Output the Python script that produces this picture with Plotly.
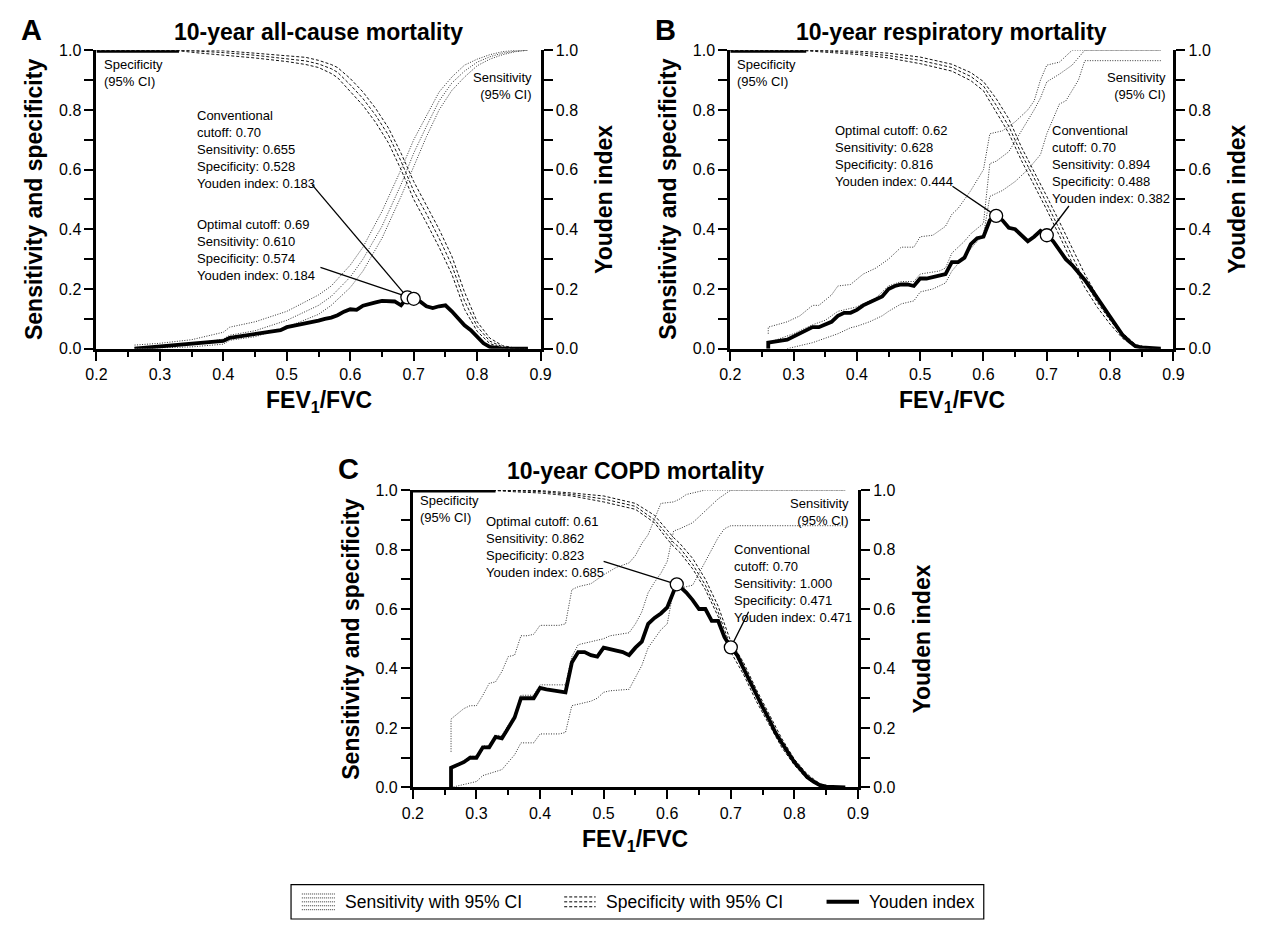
import plotly.graph_objects as go

W, H = 1264, 929
FONT = "Liberation Sans, Arial, Helvetica, sans-serif"

# ---------------- tick labels ----------------
x_tickvals = [0.2, 0.3, 0.4, 0.5, 0.6, 0.7, 0.8, 0.9]
x_ticktext = ["0.2", "0.3", "0.4", "0.5", "0.6", "0.7", "0.8", "0.9"]
x_minorvals = [0.25, 0.35, 0.45, 0.55, 0.65, 0.75, 0.85]
y_tickvals = [0.0, 0.2, 0.4, 0.6, 0.8, 1.0]
y_ticktext = ["0.0", "0.2", "0.4", "0.6", "0.8", "1.0"]
y_midvals = [0.1, 0.3, 0.5, 0.7, 0.9]
y_minorvals = [0.05, 0.15, 0.25, 0.35, 0.45, 0.55, 0.65, 0.75, 0.85, 0.95]

titles = ["10-year all-cause mortality", "10-year respiratory mortality", "10-year COPD mortality"]
letters = ["A", "B", "C"]

# ---------------- Panel A: all-cause ----------------
A_youden_x = [0.26,0.28,0.30,0.32,0.34,0.36,0.38,0.40,0.41,0.43,0.45,0.47,0.49,0.50,0.52,0.54,
              0.55,0.56,0.57,0.58,0.59,0.60,0.61,0.62,0.63,0.64,0.65,0.66,0.67,0.68,0.69,0.70,
              0.71,0.72,0.73,0.74,0.75,0.76,0.77,0.78,0.79,0.80,0.81,0.82,0.83,0.84,0.86,0.88]
A_youden_y = [0.0,0.004,0.008,0.012,0.015,0.018,0.022,0.026,0.036,0.042,0.050,0.057,0.062,0.072,0.080,0.090,
              0.094,0.100,0.104,0.112,0.124,0.132,0.130,0.144,0.148,0.155,0.160,0.160,0.158,0.145,0.172,0.167,
              0.158,0.142,0.136,0.142,0.145,0.125,0.100,0.078,0.062,0.042,0.018,0.006,0.002,0.0,0.0,0.0]
A_sens_x = [0.26,0.30,0.35,0.40,0.41,0.45,0.50,0.55,0.57,0.60,0.62,0.65,0.68,0.70,0.72,0.74,0.76,0.78,0.80,0.82,0.84,0.86,0.88]
A_sens_hi = [0.012,0.018,0.030,0.055,0.072,0.090,0.125,0.180,0.210,0.280,0.340,0.460,0.600,0.700,0.780,0.860,0.910,0.950,0.970,0.985,0.995,1.000,1.000]
A_sens_mid = [0.004,0.008,0.016,0.032,0.045,0.060,0.095,0.145,0.175,0.240,0.300,0.410,0.550,0.655,0.745,0.830,0.890,0.930,0.960,0.978,0.990,0.997,1.000]
A_sens_lo = [0.000,0.002,0.006,0.015,0.028,0.040,0.072,0.115,0.145,0.205,0.260,0.370,0.510,0.610,0.710,0.800,0.865,0.910,0.948,0.970,0.985,0.995,1.000]
A_spec_x = [0.20,0.33,0.36,0.40,0.45,0.50,0.53,0.55,0.57,0.58,0.60,0.62,0.64,0.66,0.68,0.70,0.72,0.74,0.76,0.78,0.80,0.82,0.84,0.86,0.88]
A_spec_hi = [1.0,1.0,1.0,0.998,0.990,0.982,0.976,0.966,0.952,0.942,0.905,0.860,0.805,0.740,0.655,0.560,0.480,0.400,0.310,0.190,0.090,0.035,0.010,0.002,0.0]
A_spec_mid = [1.0,1.0,0.997,0.992,0.983,0.972,0.964,0.954,0.938,0.926,0.884,0.838,0.782,0.716,0.628,0.528,0.452,0.370,0.280,0.160,0.074,0.025,0.006,0.001,0.0]
A_spec_lo = [1.0,0.998,0.991,0.984,0.974,0.962,0.952,0.942,0.922,0.908,0.862,0.815,0.758,0.690,0.600,0.500,0.422,0.340,0.250,0.132,0.058,0.017,0.003,0.0,0.0]
A_cut_x = [0.69, 0.70]
A_cut_y = [0.172, 0.167]
A_notes = ["Conventional<br>cutoff: 0.70<br>Sensitivity: 0.655<br>Specificity: 0.528<br>Youden index: 0.183",
           "Optimal cutoff: 0.69<br>Sensitivity: 0.610<br>Specificity: 0.574<br>Youden index: 0.184"]
A_note_x = [0.355, 0.355]
A_note_y = [0.812, 0.447]
A_lead_from_x = [0.540, 0.553]
A_lead_from_y = [0.549, 0.272]

# ---------------- Panel B: respiratory ----------------
B_youden_x = [0.26,0.26,0.29,0.30,0.31,0.32,0.33,0.34,0.35,0.36,0.37,0.38,0.39,0.40,0.41,0.42,0.43,0.44,0.45,0.46,
              0.47,0.48,0.49,0.50,0.51,0.52,0.53,0.54,0.55,0.56,0.57,0.58,0.59,0.60,0.61,0.62,0.63,0.64,0.65,0.66,
              0.67,0.68,0.69,0.70,0.71,0.72,0.73,0.74,0.75,0.76,0.77,0.78,0.79,0.80,0.81,0.82,0.83,0.84,0.85,0.86,0.88]
B_youden_y = [0.0,0.02,0.03,0.04,0.05,0.06,0.072,0.072,0.08,0.09,0.11,0.12,0.12,0.13,0.145,0.155,0.165,0.175,0.20,0.21,
              0.215,0.215,0.21,0.235,0.235,0.24,0.245,0.25,0.29,0.29,0.305,0.35,0.37,0.375,0.43,0.445,0.43,0.405,0.40,0.38,
              0.36,0.375,0.395,0.382,0.36,0.33,0.30,0.28,0.255,0.23,0.20,0.17,0.14,0.105,0.075,0.045,0.025,0.008,0.004,0.003,0.0]
B_sens_hi_x = [0.26,0.26,0.29,0.31,0.33,0.34,0.36,0.37,0.39,0.41,0.43,0.45,0.47,0.49,0.50,0.52,0.54,0.55,0.56,0.58,
               0.60,0.61,0.63,0.65,0.67,0.68,0.69,0.70,0.72,0.73,0.74,0.88]
B_sens_hi = [0.05,0.072,0.09,0.11,0.145,0.145,0.18,0.21,0.215,0.25,0.27,0.30,0.34,0.34,0.375,0.38,0.41,0.45,0.47,0.53,
             0.60,0.72,0.73,0.76,0.80,0.83,0.90,0.95,0.96,0.98,1.0,1.0]
B_sens_mid_x = [0.26,0.30,0.33,0.35,0.37,0.40,0.43,0.45,0.47,0.49,0.50,0.53,0.54,0.55,0.57,0.58,0.60,0.61,0.62,0.64,
                0.66,0.68,0.69,0.70,0.72,0.74,0.76,0.88]
B_sens_mid = [0.02,0.05,0.08,0.095,0.125,0.14,0.17,0.21,0.225,0.225,0.25,0.26,0.27,0.32,0.36,0.385,0.42,0.62,0.628,0.66,
              0.73,0.80,0.84,0.894,0.92,0.95,1.0,1.0]
B_sens_lo_x = [0.29,0.30,0.33,0.35,0.37,0.39,0.40,0.42,0.44,0.45,0.47,0.49,0.50,0.52,0.54,0.55,0.57,0.59,0.60,0.61,
               0.63,0.65,0.67,0.69,0.70,0.72,0.73,0.75,0.76,0.88]
B_sens_lo = [0.0,0.005,0.02,0.035,0.05,0.07,0.075,0.09,0.11,0.125,0.15,0.16,0.19,0.20,0.22,0.26,0.31,0.36,0.38,0.51,
             0.53,0.56,0.60,0.65,0.72,0.82,0.83,0.90,0.965,0.965]
B_spec_x = [0.20,0.32,0.36,0.40,0.45,0.50,0.55,0.58,0.60,0.62,0.64,0.66,0.68,0.70,0.72,0.74,0.76,0.78,0.80,0.82,0.84,0.86,0.88]
B_spec_hi = [1.0,1.0,0.999,0.997,0.99,0.977,0.953,0.925,0.895,0.838,0.77,0.675,0.595,0.51,0.425,0.335,0.25,0.175,0.11,0.052,0.014,0.003,0.0]
B_spec_mid = [1.0,1.0,0.996,0.992,0.982,0.966,0.942,0.912,0.880,0.816,0.745,0.652,0.572,0.488,0.40,0.31,0.225,0.155,0.095,0.042,0.01,0.002,0.0]
B_spec_lo = [1.0,0.998,0.992,0.986,0.974,0.955,0.930,0.898,0.864,0.795,0.722,0.630,0.550,0.465,0.378,0.288,0.205,0.138,0.082,0.034,0.007,0.001,0.0]
B_cut_x = [0.62, 0.70]
B_cut_y = [0.445, 0.38]
B_notes = ["Optimal cutoff: 0.62<br>Sensitivity: 0.628<br>Specificity: 0.816<br>Youden index: 0.444",
           "Conventional<br>cutoff: 0.70<br>Sensitivity: 0.894<br>Specificity: 0.488<br>Youden index: 0.382"]
B_note_x = [0.362, 0.705]
B_note_y = [0.762, 0.762]
B_lead_from_x = [0.551, 0.735]
B_lead_from_y = [0.544, 0.478]

# ---------------- Panel C: COPD ----------------
C_youden_x = [0.26,0.26,0.28,0.29,0.30,0.31,0.32,0.33,0.34,0.35,0.36,0.37,0.38,0.39,0.40,0.41,0.44,0.45,0.46,0.47,
              0.48,0.49,0.50,0.51,0.52,0.53,0.54,0.55,0.56,0.57,0.58,0.59,0.60,0.61,0.615,0.62,0.63,0.64,0.65,0.66,
              0.67,0.68,0.69,0.70,0.71,0.72,0.73,0.74,0.75,0.76,0.77,0.78,0.79,0.80,0.81,0.82,0.83,0.84,0.85,0.86,0.88]
C_youden_y = [0.0,0.066,0.085,0.10,0.10,0.135,0.135,0.17,0.165,0.20,0.235,0.30,0.30,0.30,0.335,0.33,0.32,0.42,0.455,0.455,
              0.445,0.44,0.47,0.465,0.46,0.455,0.445,0.47,0.49,0.55,0.57,0.585,0.605,0.66,0.685,0.675,0.655,0.63,0.60,0.60,
              0.56,0.56,0.505,0.471,0.445,0.40,0.355,0.31,0.27,0.23,0.185,0.15,0.115,0.085,0.06,0.035,0.02,0.008,0.003,0.002,0.0]
C_sens_hi_x = [0.26,0.26,0.28,0.29,0.30,0.31,0.32,0.33,0.34,0.35,0.36,0.37,0.38,0.39,0.40,0.43,0.44,0.45,0.46,0.48,
               0.49,0.50,0.52,0.54,0.55,0.56,0.57,0.58,0.59,0.61,0.62,0.63,0.64,0.66,0.88]
C_sens_hi = [0.12,0.23,0.265,0.275,0.275,0.31,0.35,0.355,0.39,0.44,0.445,0.51,0.51,0.515,0.545,0.545,0.55,0.665,0.675,0.685,
             0.70,0.715,0.74,0.755,0.78,0.82,0.85,0.90,0.955,0.96,0.97,0.985,0.99,1.0,1.0]
C_sens_mid_x = [0.26,0.26,0.28,0.29,0.30,0.31,0.32,0.33,0.34,0.35,0.36,0.37,0.39,0.40,0.44,0.45,0.46,0.50,0.51,0.54,
                0.55,0.56,0.57,0.58,0.59,0.60,0.61,0.62,0.64,0.66,0.68,0.70,0.88]
C_sens_mid = [0.0,0.07,0.09,0.105,0.105,0.14,0.14,0.175,0.175,0.21,0.245,0.31,0.31,0.345,0.345,0.44,0.48,0.50,0.51,0.52,
              0.55,0.59,0.655,0.69,0.72,0.76,0.862,0.87,0.89,0.93,0.97,1.0,1.0]
C_sens_lo_x = [0.26,0.29,0.30,0.31,0.33,0.34,0.35,0.36,0.37,0.39,0.40,0.43,0.44,0.45,0.46,0.48,0.49,0.50,0.51,0.54,
               0.55,0.56,0.57,0.58,0.59,0.60,0.61,0.64,0.65,0.66,0.67,0.68,0.69,0.70,0.88]
C_sens_lo = [0.0,0.015,0.02,0.04,0.055,0.06,0.085,0.11,0.15,0.15,0.18,0.18,0.185,0.275,0.28,0.29,0.30,0.32,0.325,0.33,
             0.37,0.41,0.47,0.50,0.53,0.55,0.665,0.68,0.72,0.76,0.80,0.84,0.87,0.88,0.88]
C_spec_x = [0.20,0.33,0.36,0.40,0.45,0.50,0.55,0.58,0.60,0.61,0.62,0.64,0.66,0.68,0.70,0.72,0.74,0.76,0.78,0.80,0.82,0.84,0.86,0.88]
C_spec_hi = [1.0,1.0,0.999,0.998,0.99,0.98,0.955,0.915,0.865,0.84,0.82,0.77,0.70,0.61,0.49,0.42,0.33,0.245,0.165,0.095,0.045,0.012,0.002,0.0]
C_spec_mid = [1.0,1.0,0.997,0.995,0.985,0.97,0.945,0.90,0.85,0.823,0.805,0.75,0.68,0.59,0.471,0.40,0.31,0.23,0.15,0.085,0.035,0.008,0.001,0.0]
C_spec_lo = [1.0,0.998,0.994,0.99,0.98,0.96,0.935,0.89,0.835,0.81,0.79,0.735,0.665,0.575,0.455,0.38,0.29,0.21,0.135,0.075,0.028,0.005,0.0,0.0]
C_cut_x = [0.615, 0.70]
C_cut_y = [0.683, 0.471]
C_notes = ["Optimal cutoff: 0.61<br>Sensitivity: 0.862<br>Specificity: 0.823<br>Youden index: 0.685",
           "Conventional<br>cutoff: 0.70<br>Sensitivity: 1.000<br>Specificity: 0.471<br>Youden index: 0.471"]
C_note_x = [0.312, 0.702]
C_note_y = [0.925, 0.833]
C_lead_from_x = [0.500, 0.728]
C_lead_from_y = [0.760, 0.591]

spec_label = "Specificity<br>(95% CI)"
sens_label = "Sensitivity<br>(95% CI)"
legend_labels = ["Sensitivity with 95% CI", "Specificity with 95% CI", "Youden index"]

# ---------------- layout geometry (page pixels) ----------------
# plot-area boxes: left, right, top, bottom
boxes = [(87, 539, 43, 347), (732, 1183, 43, 347), (409, 862, 491, 794)]
spec_label_pos = [(0.208, 0.985), (0.208, 0.985), (0.208, 0.997)]
sens_label_pos = [(0.889, 0.940), (0.891, 0.940), (0.889, 0.987)]

panels = [
    dict(youden=(A_youden_x, A_youden_y),
         sens=[(A_sens_x, A_sens_hi), (A_sens_x, A_sens_mid), (A_sens_x, A_sens_lo)],
         spec=[(A_spec_x, A_spec_hi), (A_spec_x, A_spec_mid), (A_spec_x, A_spec_lo)],
         cut=(A_cut_x, A_cut_y), notes=(A_notes, A_note_x, A_note_y),
         lead=(A_lead_from_x, A_lead_from_y)),
    dict(youden=(B_youden_x, B_youden_y),
         sens=[(B_sens_hi_x, B_sens_hi), (B_sens_mid_x, B_sens_mid), (B_sens_lo_x, B_sens_lo)],
         spec=[(B_spec_x, B_spec_hi), (B_spec_x, B_spec_mid), (B_spec_x, B_spec_lo)],
         cut=(B_cut_x, B_cut_y), notes=(B_notes, B_note_x, B_note_y),
         lead=(B_lead_from_x, B_lead_from_y)),
    dict(youden=(C_youden_x, C_youden_y),
         sens=[(C_sens_hi_x, C_sens_hi), (C_sens_mid_x, C_sens_mid), (C_sens_lo_x, C_sens_lo)],
         spec=[(C_spec_x, C_spec_hi), (C_spec_x, C_spec_mid), (C_spec_x, C_spec_lo)],
         cut=(C_cut_x, C_cut_y), notes=(C_notes, C_note_x, C_note_y),
         lead=(C_lead_from_x, C_lead_from_y)),
]

fig = go.Figure()
annotations = []
shapes = []
layout = {}

tickfont = dict(family=FONT, size=16, color="black")


def pxx(p):
    return p / W


def pxy(p):
    return 1 - p / H


for i, (pan, box) in enumerate(zip(panels, boxes)):
    L, R, T, B = box
    xn = "x" if i == 0 else f"x{i + 1}"
    xkey = "xaxis" if i == 0 else f"xaxis{i + 1}"
    ids = [4 * i + k for k in (1, 2, 3, 4)]
    ynames = ["y" if n == 1 else f"y{n}" for n in ids]
    ykeys = ["yaxis" if n == 1 else f"yaxis{n}" for n in ids]
    yl, yr, yls, yrs = ynames

    layout[xkey] = dict(domain=[pxx(L), pxx(R)], anchor=yl, range=[0.2, 0.9],
                        tickmode="array", tickvals=x_tickvals, ticktext=x_ticktext,
                        ticks="outside", ticklen=9, tickwidth=2, tickcolor="black",
                        showline=True, linewidth=3, linecolor="black",
                        showgrid=False, zeroline=False, tickfont=tickfont, fixedrange=True,
                        minor=dict(tickmode="array", tickvals=x_minorvals, ticks="outside",
                                   ticklen=5, tickwidth=2, tickcolor="black", showgrid=False))
    ymain = dict(domain=[pxy(B), pxy(T)], anchor=xn, range=[0, 1],
                 tickmode="array", tickvals=y_tickvals, ticktext=y_ticktext,
                 ticks="outside", ticklen=9, tickwidth=2, tickcolor="black",
                 showline=True, linewidth=3, linecolor="black",
                 showgrid=False, zeroline=False, tickfont=tickfont, fixedrange=True,
                 minor=dict(tickmode="array", tickvals=y_midvals, ticks="outside",
                            ticklen=9, tickwidth=2, tickcolor="black", showgrid=False))
    yshort = dict(domain=[pxy(B), pxy(T)], anchor=xn, range=[0, 1],
                  tickmode="array", tickvals=y_minorvals, showticklabels=False,
                  ticks="outside", ticklen=5, tickwidth=2, tickcolor="black",
                  showline=False, showgrid=False, zeroline=False, fixedrange=True)
    layout[ykeys[0]] = dict(ymain, side="left")
    layout[ykeys[1]] = dict(ymain, side="right", overlaying=yl)
    layout[ykeys[2]] = dict(yshort, side="left", overlaying=yl)
    layout[ykeys[3]] = dict(yshort, side="right", overlaying=yl)

    # specificity (dashed)
    for sx, sy in pan["spec"]:
        fig.add_trace(go.Scatter(x=sx, y=sy, xaxis=xn, yaxis=yl, mode="lines",
                                 line=dict(color="#111111", width=1, dash="3px,2px"),
                                 showlegend=False, hoverinfo="skip"))
    # portion of the specificity curve lying on 1.0 appears as a solid top rule
    sx, sy = pan["spec"][1]
    top_x = [x for x, v in zip(sx, sy) if v >= 1.0]
    fig.add_trace(go.Scatter(x=top_x, y=[1.0] * len(top_x), xaxis=xn, yaxis=yl, mode="lines",
                             line=dict(color="black", width=5), showlegend=False, hoverinfo="skip"))
    # sensitivity (dotted)
    for sx, sy in pan["sens"]:
        fig.add_trace(go.Scatter(x=sx, y=sy, xaxis=xn, yaxis=yl, mode="lines",
                                 line=dict(color="#333333", width=1, dash="1px,1.5px"),
                                 showlegend=False, hoverinfo="skip"))
    # Youden index (thick)
    yx, yy = pan["youden"]
    fig.add_trace(go.Scatter(x=yx, y=yy, xaxis=xn, yaxis=yr, mode="lines",
                             line=dict(color="black", width=3.8), showlegend=False, hoverinfo="skip"))
    # leader lines
    cx, cy = pan["cut"]
    lx, ly = pan["lead"]
    for k in range(len(cx)):
        fig.add_trace(go.Scatter(x=[lx[k], cx[k]], y=[ly[k], cy[k]], xaxis=xn, yaxis=yr, mode="lines",
                                 line=dict(color="black", width=1.3), showlegend=False, hoverinfo="skip"))
    # cutoff circles
    fig.add_trace(go.Scatter(x=cx, y=cy, xaxis=xn, yaxis=yr, mode="markers", cliponaxis=False,
                             marker=dict(size=13, color="white", line=dict(color="black", width=1.3)),
                             showlegend=False, hoverinfo="skip"))

    # notes
    nt, nx, ny = pan["notes"]
    for k in range(len(nt)):
        annotations.append(dict(text=nt[k], x=nx[k], y=ny[k], xref=xn, yref=yl, xanchor="left",
                                yanchor="top", align="left", showarrow=False,
                                font=dict(family=FONT, size=13, color="black")))
    annotations.append(dict(text=spec_label, x=spec_label_pos[i][0], y=spec_label_pos[i][1], xref=xn, yref=yl,
                            xanchor="left", yanchor="top", align="left", showarrow=False,
                            font=dict(family=FONT, size=13, color="black")))
    annotations.append(dict(text=sens_label, x=sens_label_pos[i][0], y=sens_label_pos[i][1], xref=xn, yref=yl,
                            xanchor="right", yanchor="top", align="right", showarrow=False,
                            font=dict(family=FONT, size=13, color="black")))

    # titles / axis titles
    cxp = (L + R) / 2
    annotations.append(dict(text=f"<b>{titles[i]}</b>", x=pxx(cxp), y=pxy(T - 19), xref="paper", yref="paper",
                            xanchor="center", yanchor="middle", showarrow=False,
                            font=dict(family=FONT, size=23, color="black")))
    annotations.append(dict(text=f"<b>{letters[i]}</b>", x=pxx(L - 66), y=pxy(T - 21), xref="paper", yref="paper",
                            xanchor="center", yanchor="middle", showarrow=False,
                            font=dict(family=FONT, size=29, color="black")))
    annotations.append(dict(text="<b>Sensitivity and specificity</b>", x=pxx(L - 63), y=pxy((T + B) / 2),
                            xref="paper", yref="paper", xanchor="center", yanchor="middle", textangle=-90,
                            showarrow=False, font=dict(family=FONT, size=23, color="black")))
    annotations.append(dict(text="<b>Youden index</b>", x=pxx(R + 65), y=pxy((T + B) / 2),
                            xref="paper", yref="paper", xanchor="center", yanchor="middle", textangle=-90,
                            showarrow=False, font=dict(family=FONT, size=23, color="black")))
    annotations.append(dict(text="<b>FEV<sub>1</sub>/FVC</b>", x=pxx(cxp), y=pxy(B + 54),
                            xref="paper", yref="paper", xanchor="center", yanchor="middle",
                            showarrow=False, font=dict(family=FONT, size=23, color="black")))

# ---------------- legend (drawn) ----------------
LB = (285, 990, 893, 928)
shapes.append(dict(type="rect", xref="paper", yref="paper", x0=pxx(LB[0]), x1=pxx(LB[1]),
                   y0=pxy(LB[3]), y1=pxy(LB[2]), line=dict(color="black", width=1.2)))
sw_y = (LB[2] + LB[3]) / 2
# sensitivity swatch: stacked dotted rows
for dy in [-8, -4, 0, 4, 8]:
    shapes.append(dict(type="line", xref="paper", yref="paper", x0=pxx(296), x1=pxx(330),
                       y0=pxy(sw_y + dy), y1=pxy(sw_y + dy), line=dict(color="#333333", width=1, dash="1px,1px")))
# specificity swatch: stacked dashed rows
for dy in [-5, 0, 5]:
    shapes.append(dict(type="line", xref="paper", yref="paper", x0=pxx(563), x1=pxx(595),
                       y0=pxy(sw_y + dy), y1=pxy(sw_y + dy), line=dict(color="black", width=1, dash="3px,2px")))
shapes.append(dict(type="line", xref="paper", yref="paper", x0=pxx(830), x1=pxx(863),
                   y0=pxy(sw_y), y1=pxy(sw_y), line=dict(color="black", width=4)))
for txt, xx in zip(legend_labels, [338, 603, 871]):
    annotations.append(dict(text=txt, x=pxx(xx), y=pxy(sw_y), xref="paper", yref="paper",
                            xanchor="left", yanchor="middle", showarrow=False,
                            font=dict(family=FONT, size=17.5, color="black")))

fig.update_layout(width=W, height=H, autosize=False, margin=dict(l=0, r=0, t=0, b=0),
                  paper_bgcolor="white", plot_bgcolor="white", showlegend=False,
                  annotations=annotations, shapes=shapes, **layout)

fig.write_html("out.html", post_script="document.body.style.margin='0';",
               config={"displayModeBar": False, "staticPlot": True})
